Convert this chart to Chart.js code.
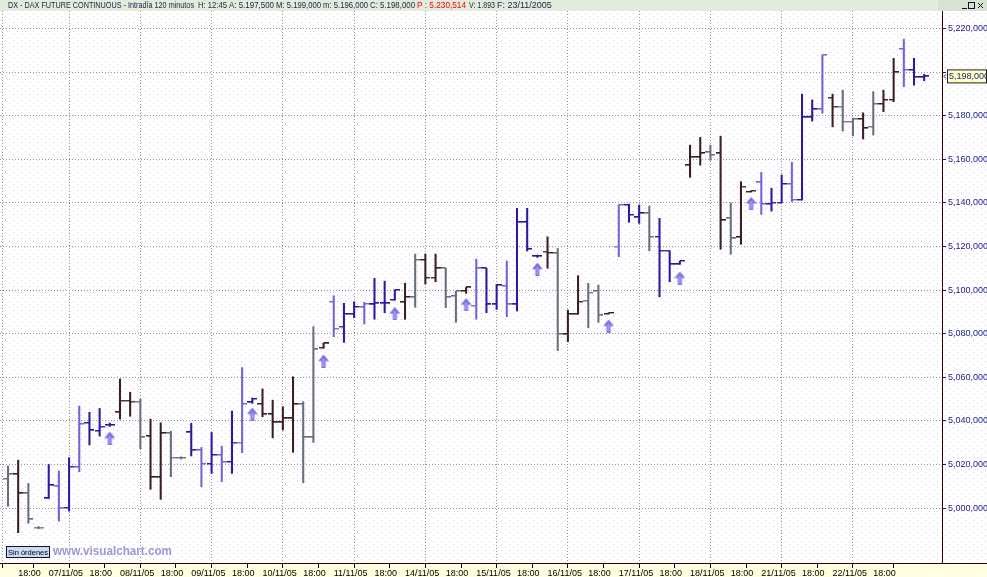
<!DOCTYPE html>
<html><head><meta charset="utf-8">
<script src="https://cdn.jsdelivr.net/npm/chart.js@4/dist/chart.umd.min.js"></script>
<style>html,body{margin:0;padding:0;background:#fff;overflow:hidden}#wrap{width:987px;height:577px;position:relative}</style>
</head><body><div id="wrap"><canvas id="c" width="987" height="577"></canvas></div>
<script>
// ---- DATA (DX - DAX Future continuous, 120-minute bars, 04/11/05 16:00 -> 23/11/05 14:00) ----
const barOpen = [5013.4, 5015.5, 5006.7, 4991.0, 5004.4, 5010.0, 5000.1, 5018.7, 5039.0, 5035.3,
 5038.0, 5043.9, 5049.2, 5048.8, 5032.9, 5014.1, 5034.3, 5023.0, 5034.7, 5026.5,
 5020.2, 5024.3, 5021.1, 5030.0, 5048.5, 5047.7, 5043.0, 5039.3, 5041.1, 5047.6,
 5032.4, 5073.5, 5094.6, 5083.2, 5088.9, 5092.2, 5093.4, 5093.9, 5095.4, 5094.4,
 5096.7, 5113.8, 5105.6, 5110.0, 5097.2, 5099.5, 5092.8, 5110.0, 5093.4, 5101.8,
 5093.4, 5131.1, 5115.5, 5117.6, 5116.8, 5079.7, 5088.9, 5095.1, 5099.5, 5089.0,
 5119.9, 5139.0, 5133.3, 5135.2, 5124.4, 5118.0, 5111.8, 5157.2, 5160.9, 5163.2,
 5162.7, 5132.9, 5124.2, 5145.0, 5149.4, 5139.4, 5140.0, 5148.6, 5141.3, 5179.2,
 5182.9, 5188.2, 5184.1, 5177.2, 5178.4, 5174.9, 5185.3, 5187.2, 5210.6, 5200.9,
 5197.5];
const barHigh = [5019.3, 5022.0, 5011.3, 4991.5, 5020.0, 5017.0, 5023.1, 5046.8, 5043.9, 5045.7,
 5039.0, 5059.2, 5053.1, 5050.0, 5040.8, 5039.1, 5035.3, 5023.5, 5038.9, 5027.8,
 5034.7, 5028.4, 5044.5, 5064.4, 5050.5, 5054.6, 5049.5, 5046.5, 5060.2, 5048.8,
 5083.2, 5075.6, 5097.4, 5093.9, 5094.6, 5094.4, 5105.4, 5104.1, 5100.0, 5103.1,
 5116.5, 5116.5, 5116.5, 5110.0, 5099.5, 5101.2, 5114.2, 5110.0, 5102.6, 5113.3,
 5137.5, 5137.5, 5116.0, 5124.4, 5119.1, 5090.8, 5106.6, 5103.1, 5102.3, 5089.5,
 5139.0, 5139.4, 5139.0, 5138.5, 5132.9, 5118.0, 5113.3, 5166.5, 5170.0, 5166.5,
 5170.6, 5140.0, 5149.7, 5145.5, 5154.0, 5146.7, 5152.8, 5158.6, 5189.9, 5187.2,
 5207.8, 5189.9, 5191.7, 5178.8, 5181.3, 5191.0, 5191.7, 5206.3, 5215.1, 5206.3,
 5199.0];
const barLow = [5000.9, 4988.7, 4993.0, 4990.5, 5004.4, 4994.0, 4998.6, 5016.7, 5029.0, 5033.0,
 5037.5, 5040.8, 5042.1, 5027.2, 5008.6, 5004.0, 5014.4, 5022.5, 5023.9, 5009.8,
 5015.9, 5012.1, 5015.9, 5025.4, 5048.0, 5041.9, 5032.2, 5035.8, 5025.6, 5011.6,
 5030.1, 5073.3, 5078.6, 5076.0, 5087.3, 5084.4, 5086.6, 5089.6, 5095.4, 5086.6,
 5092.1, 5102.8, 5103.8, 5091.9, 5085.2, 5098.5, 5086.6, 5089.6, 5091.1, 5087.8,
 5090.4, 5117.9, 5115.0, 5110.0, 5072.2, 5076.3, 5088.9, 5082.7, 5085.2, 5089.0,
 5115.3, 5131.1, 5130.6, 5118.0, 5096.9, 5103.8, 5111.8, 5151.7, 5157.3, 5159.6,
 5118.7, 5116.4, 5121.0, 5145.0, 5134.7, 5136.2, 5140.0, 5140.5, 5141.3, 5177.5,
 5181.1, 5174.9, 5172.9, 5170.8, 5169.3, 5171.1, 5181.8, 5186.4, 5193.3, 5194.0,
 5196.0];
const barClose = [5015.5, 5006.7, 4994.8, 4991.0, 5010.4, 5000.1, 5018.9, 5038.5, 5035.6, 5037.3,
 5038.0, 5049.2, 5048.8, 5032.4, 5014.1, 5034.3, 5023.1, 5023.0, 5026.5, 5020.2,
 5024.3, 5021.1, 5030.0, 5047.7, 5050.0, 5043.0, 5039.3, 5041.1, 5047.6, 5032.4,
 5072.8, 5075.5, 5082.2, 5088.9, 5092.2, 5093.7, 5093.9, 5093.9, 5100.0, 5096.7,
 5113.8, 5105.6, 5110.0, 5096.7, 5099.5, 5101.2, 5110.0, 5093.4, 5102.2, 5093.4,
 5131.1, 5118.7, 5115.5, 5117.0, 5079.7, 5088.9, 5094.6, 5098.8, 5088.4, 5089.5,
 5139.0, 5134.4, 5135.2, 5124.4, 5118.0, 5111.8, 5113.3, 5160.9, 5162.7, 5161.9,
 5132.0, 5123.7, 5147.4, 5145.5, 5139.4, 5140.0, 5148.6, 5141.3, 5179.2, 5182.9,
 5207.8, 5184.1, 5177.2, 5178.4, 5174.2, 5185.3, 5187.2, 5199.9, 5200.9, 5197.6,
 5198.0];
// buy-signal arrows: bar index and price level of the arrow
const signalBar = [10, 24, 31, 38, 45, 52, 59, 66, 73];
const signalLevel = [5032.1, 5043.1, 5067.4, 5089.2, 5093.3, 5109.6, 5083.5, 5105.5, 5139.7];
// x-axis ticks (bar index) and labels
const xTickBar = [1, 4, 8, 11, 15, 18, 22, 25, 29, 32, 36, 39, 43, 46, 50, 53, 57, 60, 64, 67, 71, 74, 78, 81, 85];
const xTickLabels = ['18:00','07/11/05','18:00','08/11/05','18:00','09/11/05','18:00','10/11/05','18:00',
 '11/11/05','18:00','14/11/05','18:00','15/11/05','18:00','16/11/05','18:00','17/11/05','18:00',
 '18/11/05','18:00','21/11/05','18:00','22/11/05','18:00'];
// y-axis ticks
const yTicks = [5000, 5020, 5040, 5060, 5080, 5100, 5120, 5140, 5160, 5180, 5200, 5220];

// ---- STYLE ----
const toneCodes = ('gdggnpnpnnnddgddggnpnpnp' + 'nddddggdpnnpnnndgddggdpnnpnnndg' +
  'ddggdpnngnnn' + 'ddgdgddpnnpnnpdggdgddpnn').split('');
const toneColor = { d: '#3b1e24', g: '#6c6c7c', p: '#7263d8', n: '#2a1a9e' };
const gridCol = 'rgba(150,135,140,0.9)';
const FONT = '"Liberation Sans", Arial, sans-serif';

function tickCanvas(color, side) {
  const c = document.createElement('canvas'); c.width = 10; c.height = 2;
  const g = c.getContext('2d'); g.fillStyle = color;
  if (side === 'open') { g.fillRect(0, 0, 5, 1); g.globalAlpha = 0.45; g.fillRect(0, 1, 5, 1); }
  else { g.fillRect(5, 0, 5, 1); g.globalAlpha = 0.45; g.fillRect(5, 1, 5, 1); }
  return c;
}
const openImg = {}, closeImg = {};
for (const k in toneColor) { openImg[k] = tickCanvas(toneColor[k], 'open'); closeImg[k] = tickCanvas(toneColor[k], 'close'); }

function arrowCanvas() {
  const c = document.createElement('canvas'); c.width = 11; c.height = 13;
  const g = c.getContext('2d');
  g.fillStyle = '#7a6ee6';
  g.beginPath(); g.moveTo(5.5, 0); g.lineTo(11, 6.5); g.lineTo(7.5, 6.5); g.lineTo(7.5, 13);
  g.lineTo(3.5, 13); g.lineTo(3.5, 6.5); g.lineTo(0, 6.5); g.closePath(); g.fill();
  g.fillStyle = 'rgba(170,160,245,0.9)'; g.fillRect(4.5, 4, 2, 8);
  return c;
}
const arrowImg = arrowCanvas();

function fmtPrice(v) { return Math.round(v).toLocaleString('en-US') + ',000'; }

function makePattern(ctx) {
  const t = document.createElement('canvas'); t.width = 8; t.height = 6;
  const g = t.getContext('2d');
  g.fillStyle = '#ffffff'; g.fillRect(0, 0, 8, 6);
  g.fillStyle = '#f6b4f0'; g.fillRect(1, 1, 1, 1);
  g.fillStyle = '#b0e8f4'; g.fillRect(5, 4, 1, 1);
  return ctx.createPattern(t, 'repeat');
}

const decor = {
  id: 'decor',
  beforeDraw(chart) {
    const ctx = chart.ctx, W = chart.width, H = chart.height;
    ctx.save();
    ctx.fillStyle = makePattern(ctx); ctx.fillRect(0, 0, W, H);
    ctx.fillStyle = '#e2ecdc'; ctx.fillRect(0, 0, W, 11);
    ctx.fillStyle = '#ffffe0'; ctx.fillRect(0, chart.chartArea.bottom, W, H - chart.chartArea.bottom);
    ctx.strokeStyle = '#3a0000'; ctx.lineWidth = 1;
    ctx.beginPath(); ctx.moveTo(0, chart.chartArea.bottom + 0.5); ctx.lineTo(W, chart.chartArea.bottom + 0.5); ctx.stroke();
    ctx.restore();
  },
  afterDraw(chart) {
    const ctx = chart.ctx, W = chart.width;
    const ys = chart.scales.y;
    ctx.save();
    // header
    ctx.textBaseline = 'middle';
    ctx.font = '9px ' + FONT;
    const segs = [
      ['DX - DAX FUTURE CONTINUOUS - Intradía 120 minutos', 8, 186, '#1e1e46'],
      ['H: 12:45', 198, 29, '#1e1e46'],
      ['A: 5.197,500', 229, 45, '#1e1e46'],
      ['M: 5.199,000', 276, 45, '#1e1e46'],
      ['m: 5.196,000', 323, 45, '#1e1e46'],
      ['C: 5.198,000', 370, 45, '#1e1e46'],
      ['P : 5.230,514', 417, 49, '#ff0000'],
      ['V: 1.893', 469, 26, '#1e1e46'],
      ['F: 23/11/2005', 497, 58, '#1e1e46']
    ];
    for (const s of segs) { ctx.fillStyle = s[3]; ctx.fillText(s[0], s[1], 5.5, s[2]); }
    // window buttons
    ctx.fillStyle = '#d8e2d2'; ctx.fillRect(938, 0, 49, 11);
    ctx.strokeStyle = '#101030'; ctx.lineWidth = 1;
    ctx.beginPath(); ctx.moveTo(962, 8.5); ctx.lineTo(967, 8.5); ctx.stroke();
    ctx.strokeRect(968.5, 2.5, 6, 6);
    ctx.beginPath(); ctx.moveTo(978, 3); ctx.lineTo(983, 8); ctx.moveTo(983, 3); ctx.lineTo(978, 8); ctx.stroke();
    // last price box
    const yp = ys.getPixelForValue(barClose[barClose.length - 1]);
    const bx = chart.chartArea.right + 5;
    ctx.fillStyle = '#ffffc4'; ctx.fillRect(bx, yp - 7, W - bx, 14);
    ctx.strokeStyle = '#202020'; ctx.strokeRect(bx + 0.5, yp - 6.5, W - bx - 1, 13);
    ctx.fillStyle = '#1a1a8a'; ctx.font = '9px ' + FONT;
    ctx.textAlign = 'left';
    ctx.fillText(fmtPrice(barClose[barClose.length - 1]), bx + 2, yp + 0.5);
    ctx.strokeStyle = '#1a1a60';
    ctx.beginPath(); ctx.moveTo(bx - 1, yp - 2); ctx.lineTo(bx - 3, yp); ctx.lineTo(bx - 1, yp + 2); ctx.stroke();
    // bottom-left button and url
    ctx.fillStyle = '#c9dcf4'; ctx.fillRect(6, 546, 44, 12);
    ctx.strokeStyle = '#101030'; ctx.strokeRect(6.5, 546.5, 43, 11);
    ctx.fillStyle = '#000000'; ctx.font = '8px ' + FONT;
    ctx.fillText('Sin órdenes', 8, 552.5, 40);
    ctx.fillStyle = '#9a9ad6'; ctx.font = 'bold 12px ' + FONT;
    ctx.fillText('www.visualchart.com', 53, 551.5, 119);
    ctx.restore();
  }
};

const n = barOpen.length;
const idx = Array.from({ length: n }, (_, i) => i);

new Chart(document.getElementById('c'), {
  type: 'bar',
  data: {
    datasets: [
      {
        label: 'High-Low', order: 3,
        data: idx.map(i => ({ x: i, y: [barLow[i], barHigh[i]] })),
        backgroundColor: toneCodes.map(t => toneColor[t]),
        borderWidth: 0, barThickness: 1.4, grouped: false
      },
      {
        type: 'scatter', label: 'Open', order: 2,
        data: idx.map(i => ({ x: i, y: barOpen[i] })),
        pointStyle: toneCodes.map(t => openImg[t]), pointRadius: 3, pointHoverRadius: 3
      },
      {
        type: 'scatter', label: 'Close', order: 2,
        data: idx.map(i => ({ x: i, y: barClose[i] })),
        pointStyle: toneCodes.map(t => closeImg[t]), pointRadius: 3, pointHoverRadius: 3
      },
      {
        type: 'scatter', label: 'Señal', order: 1,
        data: signalBar.map((b, k) => ({ x: b, y: signalLevel[k] })),
        pointStyle: arrowImg, pointRadius: 5, pointHoverRadius: 5
      }
    ]
  },
  options: {
    responsive: false, animation: false, events: [],
    layout: { autoPadding: false, padding: { top: 11, left: 0, right: 0, bottom: 0 } },
    plugins: { legend: { display: false }, tooltip: { enabled: false } },
    scales: {
      x: {
        type: 'linear', min: -0.786, max: 91.75, offset: false,
        afterBuildTicks: s => { s.ticks = xTickBar.map(v => ({ value: v })); },
        afterFit: s => { s.height = 14; s.paddingLeft = 0; s.paddingRight = 0; },
        ticks: {
          autoSkip: false, maxRotation: 0, minRotation: 0, align: 'start', padding: 0,
          color: '#000000', font: { size: 9, family: FONT },
          callback: (v, i) => xTickLabels[i]
        },
        grid: {
          color: c => (xTickLabels[c.index] === '18:00' ? gridCol : 'rgba(0,0,0,0)'),
          tickColor: '#000000', tickLength: 5, lineWidth: 1
        },
        border: { display: true, color: '#3a0000', width: 1, dash: [1, 2] }
      },
      y: {
        type: 'linear', position: 'right', min: 4974.8, max: 5228,
        afterBuildTicks: s => { s.ticks = yTicks.map(v => ({ value: v })); },
        afterFit: s => { s.width = 45; s.paddingTop = 0; s.paddingBottom = 0; },
        ticks: {
          color: '#1a1a8a', padding: 2,
          font: { size: 9, family: FONT },
          callback: v => (v === 5200 ? '' : fmtPrice(v))
        },
        grid: { color: gridCol, tickColor: '#1a1a60', tickLength: 4, lineWidth: 1 },
        border: { display: true, color: '#3a0000', width: 1, dash: [1, 2] }
      }
    }
  },
  plugins: [decor]
});
</script></body></html>
